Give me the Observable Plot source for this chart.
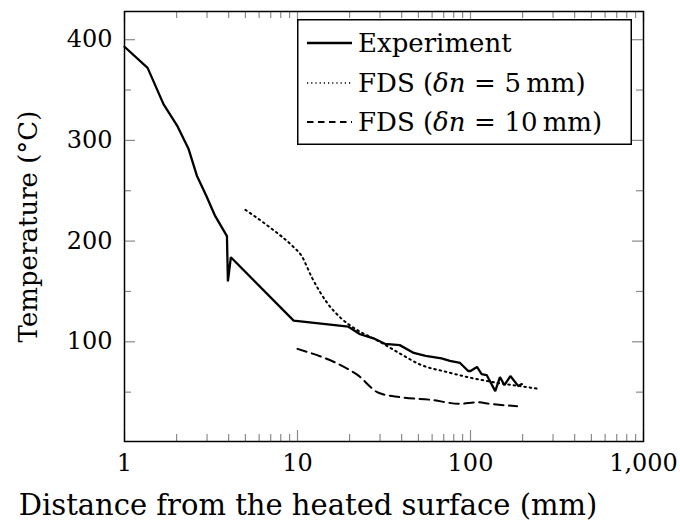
<!DOCTYPE html>
<html>
<head>
<meta charset="utf-8">
<script src="https://cdn.jsdelivr.net/npm/d3@7"></script>
<script src="https://cdn.jsdelivr.net/npm/@observablehq/plot@0.6"></script>
<style>
  body { margin: 0; background: white; }
  #wrap { position: relative; width: 680px; height: 528px; font-family: 'DejaVu Serif', serif; }
</style>
</head>
<body>
<div id="wrap"></div>
<script>
// ---- data ----
const expX = [1, 1.36, 1.68, 2.01, 2.34, 2.62, 2.97, 3.34, 3.91, 3.96, 4.12, 9.5, 19.7, 23, 27.5, 32, 39, 47, 55, 68, 76, 87, 97, 100, 109, 116, 124, 139, 148, 157, 170, 189, 198];
const expY = [393, 372, 336, 315, 292, 265, 245, 225, 205, 160, 184, 121, 115, 107.5, 103.5, 98, 96.7, 89, 86, 83.6, 81, 79, 71, 71, 75, 68, 67, 51, 65, 57, 66, 56, 58];

const fds5X = [5, 7, 9.5, 10.5, 12.1, 14.8, 17.7, 22, 28.8, 39, 51, 73, 100, 142, 194, 247];
const fds5Y = [231, 213, 194, 186, 164, 139, 124, 112, 101.5, 88.5, 77.5, 70, 64.3, 59.3, 56, 53.3];

const fds10X = [10, 19.7, 22, 29.4, 39, 59, 87, 109, 130, 186];
const fds10Y = [93, 72.7, 67.7, 49.4, 45, 42.4, 38.4, 40, 38.4, 36];

const seriesNames = ["Experiment", "FDS (δn = 5 mm)", "FDS (δn = 10 mm)"];

const xMajor = [1, 10, 100, 1000];
const xMinor = [2, 3, 4, 5, 6, 7, 8, 9, 20, 30, 40, 50, 60, 70, 80, 90, 200, 300, 400, 500, 600, 700, 800, 900];
const yMajor = [100, 200, 300, 400];
const yMinor = [50, 150, 250, 350];

const xLabel = "Distance from the heated surface (mm)";
const yLabel = "Temperature (°C)";

// ---- build ----
const toRows = (xs, ys) => xs.map((x, i) => ({x, y: ys[i]}));
const exp = toRows(expX, expY);
const fds5 = toRows(fds5X, fds5Y);
const fds10 = toRows(fds10X, fds10Y);

const FONT = "'DejaVu Serif', serif";
const TICK_FS = 24, LABEL_FS = 26, XLABEL_FS = 29;
const W = 680, H = 528, ML = 124, MR = 37, MT = 11, MB = 87;
const FW = W - ML - MR, FH = H - MT - MB;
const tickColor = "#8a8a8a";
const majorLen = 11, minorLen = 7;

const dash5 = "1.6,3.8", dash10 = "9.5,5.5";

const chart = Plot.plot({
  width: W, height: H,
  marginLeft: ML, marginRight: MR, marginTop: MT, marginBottom: MB,
  x: {type: "log", domain: [1, 1000]},
  y: {domain: [1, 428]},
  style: {fontFamily: FONT, fontSize: TICK_FS + "px", color: "black", background: "white"},
  marks: [
    Plot.tickX(xMajor, {x: d => d, insetTop: FH - majorLen, stroke: tickColor, strokeWidth: 1.2}),
    Plot.tickX(xMinor, {x: d => d, insetTop: FH - minorLen, stroke: tickColor, strokeWidth: 1.2}),
    Plot.tickX(xMajor, {x: d => d, insetBottom: FH - majorLen, stroke: tickColor, strokeWidth: 1.2}),
    Plot.tickX(xMinor, {x: d => d, insetBottom: FH - minorLen, stroke: tickColor, strokeWidth: 1.2}),
    Plot.tickY(yMajor, {y: d => d, insetRight: FW - majorLen, stroke: tickColor, strokeWidth: 1.2}),
    Plot.tickY(yMinor, {y: d => d, insetRight: FW - minorLen, stroke: tickColor, strokeWidth: 1.2}),
    Plot.tickY(yMajor, {y: d => d, insetLeft: FW - majorLen, stroke: tickColor, strokeWidth: 1.2}),
    Plot.tickY(yMinor, {y: d => d, insetLeft: FW - minorLen, stroke: tickColor, strokeWidth: 1.2}),
    Plot.axisX({ticks: xMajor, tickFormat: d3.format(","), tickSize: 0, tickPadding: 12, label: null, fontFamily: FONT, fontSize: TICK_FS}),
    Plot.axisY({ticks: yMajor, tickSize: 0, tickPadding: 12, label: null, fontFamily: FONT, fontSize: TICK_FS}),
    Plot.text([xLabel], {frameAnchor: "bottom", dx: -76, dy: 64, text: d => d, lineAnchor: "middle", textAnchor: "middle", fontSize: XLABEL_FS, fontFamily: FONT}),
    Plot.text([yLabel], {frameAnchor: "left", dx: -96, text: d => d, rotate: -90, lineAnchor: "middle", textAnchor: "middle", fontSize: LABEL_FS, fontFamily: FONT}),
    Plot.line(fds5, {x: "x", y: "y", curve: "monotone-x", stroke: "black", strokeWidth: 2, strokeDasharray: dash5}),
    Plot.line(fds10, {x: "x", y: "y", curve: "monotone-x", stroke: "black", strokeWidth: 2, strokeDasharray: dash10}),
    Plot.line(exp, {x: "x", y: "y", stroke: "black", strokeWidth: 2.3, strokeLinejoin: "miter"}),
    Plot.frame({stroke: "black", strokeWidth: 1.5})
  ]
});

const wrap = document.getElementById("wrap");
wrap.appendChild(chart);

// ---- legend ----
const LW = 335, LH = 126;
const rowY = [24, 64, 103];
const ns = "http://www.w3.org/2000/svg";
const leg = document.createElementNS(ns, "svg");
leg.setAttribute("width", LW);
leg.setAttribute("height", LH);
leg.style.position = "absolute";
leg.style.left = "297px";
leg.style.top = "19px";
leg.innerHTML = `<rect x="0.75" y="0.75" width="${LW - 1.5}" height="${LH - 1.5}" fill="white" stroke="black" stroke-width="1.5"/>`;
const legDash = [null, "1.2,3", "6.5,4.5"];
const legWidth = [2.3, 1.4, 2];
seriesNames.forEach((name, i) => {
  const line = document.createElementNS(ns, "line");
  line.setAttribute("x1", 10); line.setAttribute("x2", 55);
  line.setAttribute("y1", rowY[i]); line.setAttribute("y2", rowY[i]);
  line.setAttribute("stroke", "black");
  line.setAttribute("stroke-width", legWidth[i]);
  if (legDash[i]) line.setAttribute("stroke-dasharray", legDash[i]);
  leg.appendChild(line);
  const t = document.createElementNS(ns, "text");
  t.setAttribute("x", 61);
  t.setAttribute("y", rowY[i]);
  t.setAttribute("dy", "0.35em");
  t.setAttribute("font-family", FONT);
  t.setAttribute("font-size", LABEL_FS);
  const m = name.match(/^(.*\()δn = (\d+) mm\)$/);
  if (m) {
    t.innerHTML = `${m[1]}<tspan font-style="italic">δn</tspan>\u2004=\u2004${m[2]}\u2009mm)`;
  } else {
    t.textContent = name;
  }
  leg.appendChild(t);
});
wrap.appendChild(leg);
</script>
</body>
</html>
